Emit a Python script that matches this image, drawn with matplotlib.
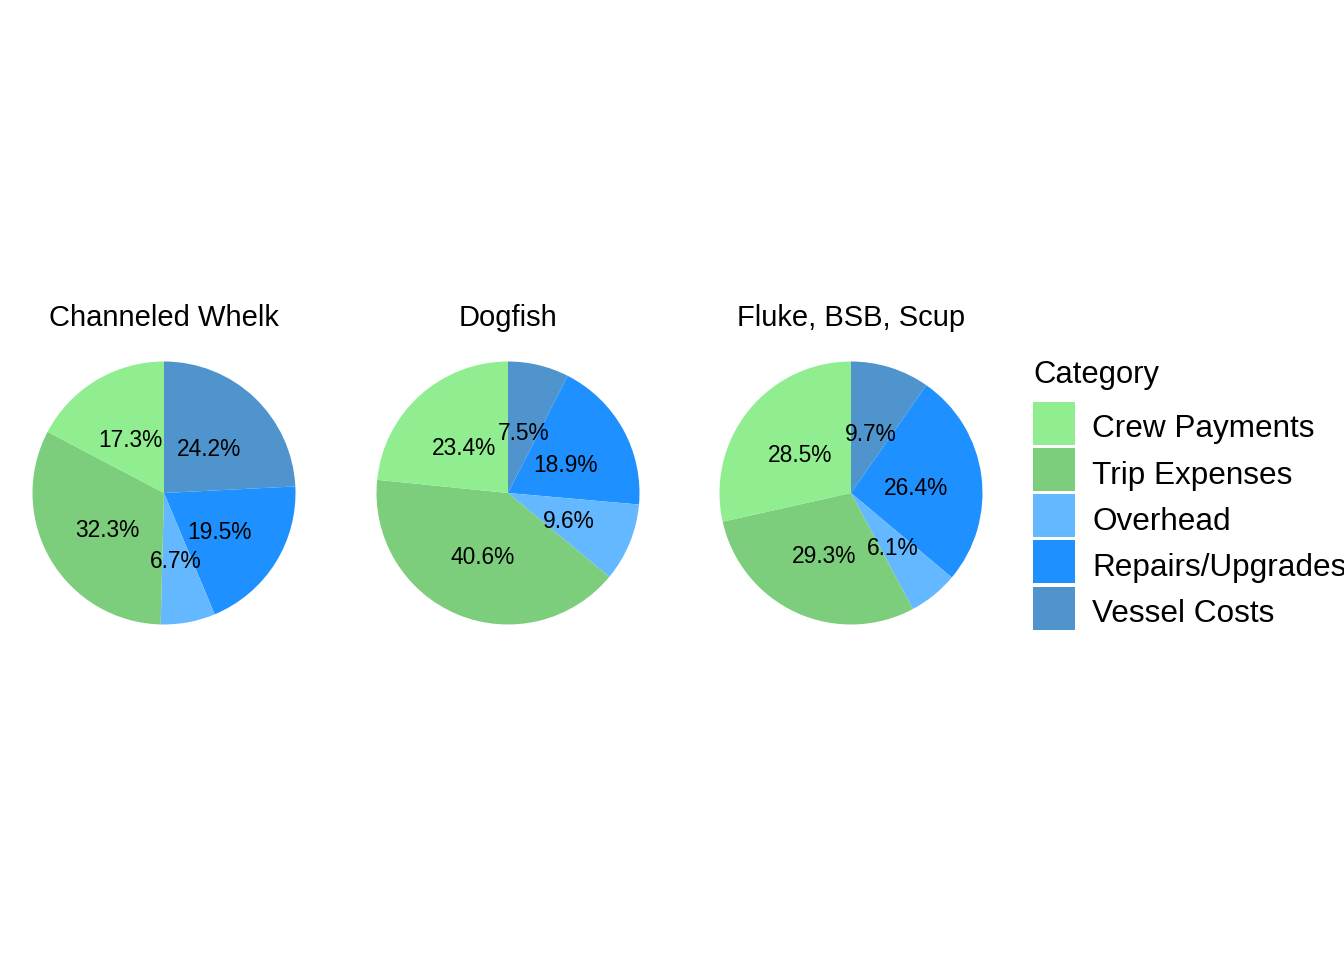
import matplotlib
matplotlib.use("Agg")
import matplotlib.pyplot as plt
from matplotlib.patches import Patch
from matplotlib.transforms import Affine2D, offset_copy

plt.rcParams['font.family'] = ['Liberation Sans', 'DejaVu Sans']

fisheries = ["Channeled Whelk", "Dogfish", "Fluke, BSB, Scup"]
# clockwise from 12 o'clock
pie_order = ["Vessel Costs", "Repairs/Upgrades", "Overhead", "Trip Expenses", "Crew Payments"]
whelk = [24.2, 19.5, 6.7, 32.3, 17.3]
dogfish = [7.5, 18.9, 9.6, 40.6, 23.4]
fluke = [9.7, 26.4, 6.1, 29.3, 28.5]
values = [whelk, dogfish, fluke]

legend_order = ["Crew Payments", "Trip Expenses", "Overhead", "Repairs/Upgrades", "Vessel Costs"]
colors = {
    "Crew Payments": "#90EE90",
    "Trip Expenses": "#7CCD7C",
    "Overhead": "#63B8FF",
    "Repairs/Upgrades": "#1E90FF",
    "Vessel Costs": "#4F94CD",
}

W, H = 1344, 960
fig = plt.figure(figsize=(W / 100, H / 100), dpi=100)

centers_x = [164, 508, 851]
cy = 493
r = 131.5
for name, vals, cx in zip(fisheries, values, centers_x):
    ax = fig.add_axes([(cx - r) / W, (H - cy - r) / H, 2 * r / W, 2 * r / H])
    wedges, texts, autotexts = ax.pie(
        vals, colors=[colors[c] for c in pie_order], startangle=90,
        counterclock=False, radius=1, autopct='%.1f%%', pctdistance=0.5,
        textprops=dict(fontsize=16.4, color='black'),
        wedgeprops=dict(linewidth=0))
    for t in autotexts:
        t.set_transform(offset_copy(ax.transData, fig=fig, x=0, y=-4, units='dots'))
    ax.set_xlim(-1, 1)
    ax.set_ylim(-1, 1)
    ax.set_aspect('equal')
    ax.axis('off')
    fig.text(cx / W, 1 - 326 / H, name, ha='center', va='baseline', fontsize=21)

# legend
fs = 22.7
fig.text(1033 / W, 1 - 383 / H, "Category", ha='left', va='baseline', fontsize=22.3)
handles = [Patch(facecolor=colors[c], edgecolor='none') for c in legend_order]
fspx = fs * 100 / 72
hh = (43 / fspx - 0.245) / 0.65
row = 43
leg = fig.legend(handles, legend_order, loc='upper left',
                 bbox_to_anchor=(1033 / W, 1 - 401.7 / H), frameon=False,
                 fontsize=fs, borderpad=0, borderaxespad=0,
                 handlelength=42 / fspx, handleheight=hh,
                 labelspacing=(46.2 - row) / fspx, handletextpad=17 / fspx)
for t in leg.get_texts():
    t.set_transform(t.get_transform() + Affine2D().translate(0, -4))

fig.savefig("out.png", dpi=100)
